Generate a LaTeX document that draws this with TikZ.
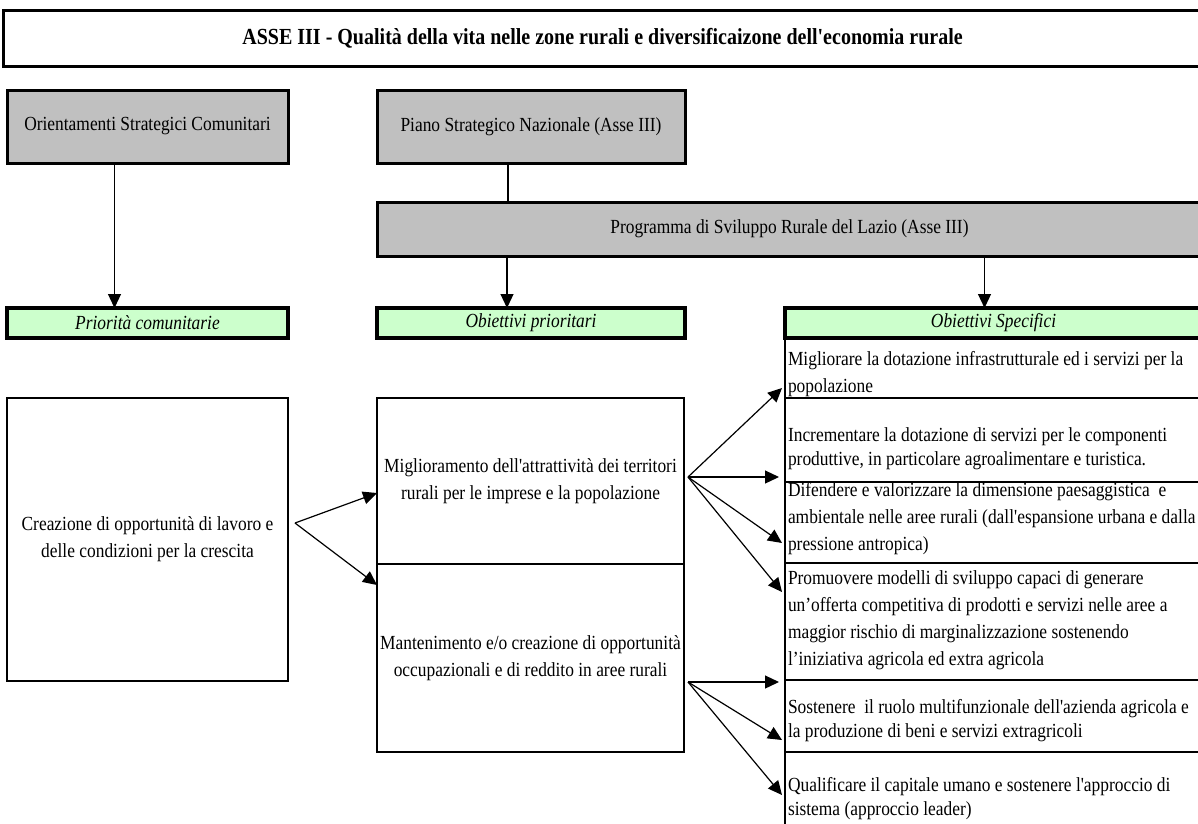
\documentclass[tikz,border=0pt]{standalone}
\usepackage{fontspec}
\setmainfont{Liberation Serif}[Ligatures=TeXOff, FakeStretch=0.87]
\usetikzlibrary{arrows.meta}
\definecolor{grigio}{HTML}{C0C0C0}
\definecolor{verde}{HTML}{CCFFCC}
\begin{document}
\begin{tikzpicture}[x=1pt, y=-1pt,
   every node/.style={font=\fontsize{20}{27}\selectfont, inner sep=0pt, outer sep=0pt},
   box/.style={draw, line width=2pt, anchor=north west, align=center},
   grey/.style={box, fill=grigio, line width=3pt},
   bar/.style={box, fill=verde, line width=4pt, font=\fontsize{20}{27}\selectfont\itshape},
   cell/.style={anchor=west, align=left},
   celltight/.style={cell, font=\fontsize{20}{24}\selectfont},
   arr/.style={-{Triangle[length=14pt,width=13pt]}, line width=1.2pt}]
\path[use as bounding box, fill=white] (0,0) rectangle (1198,823);

\node[box, line width=3pt, minimum width=1199, minimum height=56,
   font=\fontsize{23}{27}\selectfont\bfseries] (asse) at (3,10)
   {ASSE III - Qualità della vita nelle zone rurali e diversificaizone dell'economia rurale};

\node[grey, minimum width=281, minimum height=73] (orient) at (7,90) {Orientamenti Strategici Comunitari};
\node[grey, minimum width=308, minimum height=73] (piano) at (377,90) {Piano Strategico Nazionale (Asse III)};
\node[grey, minimum width=825, minimum height=54] (psr) at (377,202) {Programma di Sviluppo Rurale del Lazio (Asse III)};

\node[bar, minimum width=281, minimum height=30] (prio) at (7,308) {Priorità comunitarie};
\node[bar, minimum width=308, minimum height=30] (obpr) at (377,308) {Obiettivi prioritari};
\node[bar, minimum width=417, minimum height=30] (obsp) at (785,308) {Obiettivi Specifici};

\node[box, minimum width=281, minimum height=283] (creaz) at (7,398)
   {Creazione di opportunità di lavoro e\\delle condizioni per la crescita};
\node[box, minimum width=307, minimum height=166] (migl) at (377,398)
   {Miglioramento dell'attrattività dei territori\\rurali per le imprese e la popolazione};
\node[box, minimum width=307, minimum height=188] (mant) at (377,564)
   {Mantenimento e/o creazione di opportunità\\occupazionali e di reddito in aree rurali};

\draw[line width=2pt] (obsp.south west) -- ++(0,500);
\foreach \y in {398,482,563,680,752}
  \draw[line width=2pt] (785,\y) -- (1203,\y);

\node[cell] (os1) at (788,374.5)
   {Migliorare la dotazione infrastrutturale ed i servizi per la\\popolazione};
\node[celltight] (os2) at (788,448.5)
   {Incrementare la dotazione di servizi per le componenti\\produttive, in particolare agroalimentare e turistica.};
\node[cell] (os3) at (788,519)
   {Difendere e valorizzare la dimensione paesaggistica~ e\\ambientale nelle aree rurali (dall'espansione urbana e dalla\\pressione antropica)};
\node[cell] (os4) at (788,620)
   {Promuovere modelli di sviluppo capaci di generare\\un’offerta competitiva di prodotti e servizi nelle aree a\\maggior rischio di marginalizzazione sostenendo\\l’iniziativa agricola ed extra agricola};
\node[celltight] (os5) at (788,721)
   {Sostenere~ il ruolo multifunzionale dell'azienda agricola e\\la produzione di beni e servizi extragricoli};
\node[celltight] (os6) at (788,799)
   {Qualificare il capitale umano e sostenere l'approccio di\\sistema (approccio leader)};

\draw[arr] ([xshift=-33]orient.south) -- ([xshift=-33]prio.north);
\draw[line width=1.2pt] ([xshift=-23]piano.south) -- ([xshift=-23]piano.south |- psr.north);
\draw[arr] ([xshift=-24]obpr.north |- psr.south) -- ([xshift=-24]obpr.north);
\draw[arr] ([xshift=-9]obsp.north |- psr.south) -- ([xshift=-9]obsp.north);

\coordinate (cr) at (295,523);
\coordinate (m1) at (377,493);
\coordinate (m2) at (377,585);
\draw[arr] (cr) -- (m1);
\draw[arr] (cr) -- (m2);

\coordinate (ms) at (688,477);
\coordinate (ns) at (688,682);
\coordinate (t1) at (782,388);
\coordinate (t2) at (779,477);
\coordinate (t3) at (782,543);
\coordinate (t4) at (782,592);
\coordinate (t5) at (779,682);
\coordinate (t6) at (782,740);
\coordinate (t7) at (782,795);
\foreach \t in {t1,t2,t3,t4}
  \draw[arr] (ms) -- (\t);
\foreach \t in {t5,t6,t7}
  \draw[arr] (ns) -- (\t);
\end{tikzpicture}
\end{document}
